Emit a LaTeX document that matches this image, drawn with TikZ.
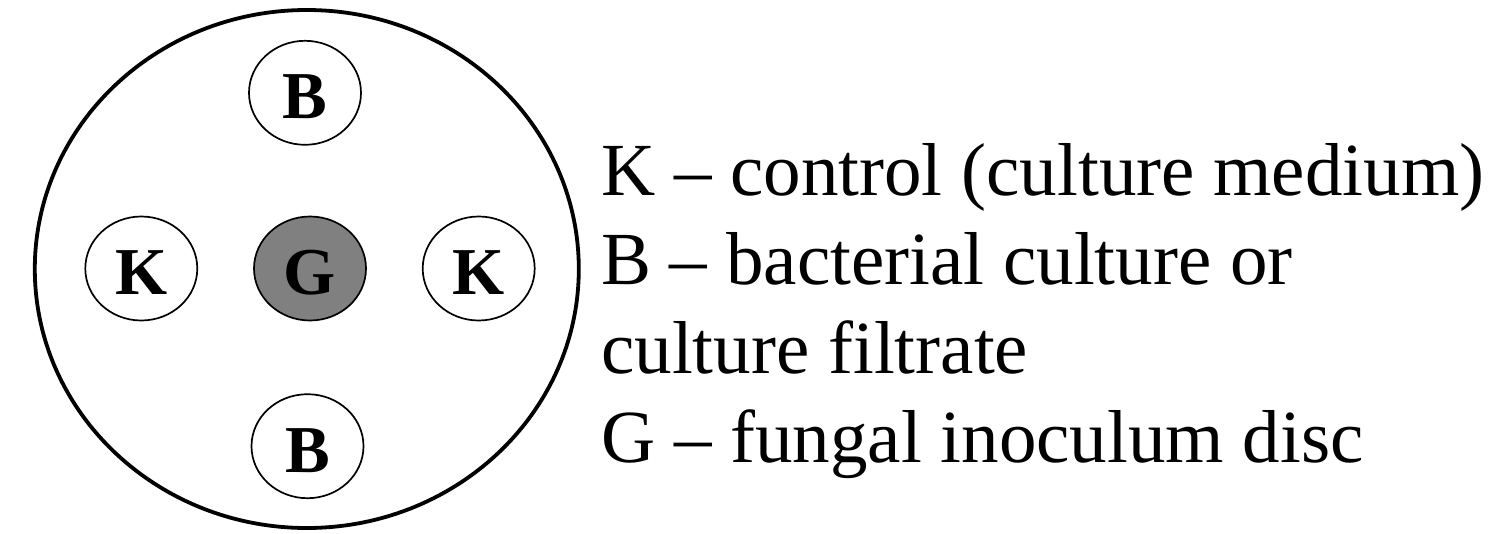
\documentclass[tikz,border=0pt]{standalone}
\usepackage{fontspec}
\setmainfont{Liberation Serif}
\usetikzlibrary{positioning, shapes.geometric}

\begin{document}
\begin{tikzpicture}[
    x=1pt, y=-1pt,
    plate/.style={draw, ellipse, line width=3.8pt, inner sep=0pt,
                  minimum width=544pt, minimum height=518pt},
    well/.style={draw, ellipse, line width=1.7pt, inner sep=0pt,
                 minimum width=112pt, minimum height=104pt,
                 text height=52pt, text depth=0pt,
                 font=\fontsize{67}{67}\selectfont\bfseries},
    disc/.style={well, fill=black!50},
    legend/.style={anchor=base west, inner sep=0pt,
                   font=\fontsize{75}{89}\selectfont}
  ]
  \useasboundingbox (0,0) rectangle (1488,533);

  % petri dish
  \node[plate] (dish) at (306.8,269) {};

  % inoculum in the middle, wells around it
  \node[disc] (fungus) at (310,268.5) {G};
  \node[well, left=55pt of fungus] (ctrlL) {K};
  \node[well, right=55pt of fungus] (ctrlR) {K};
  \node[well, above=70pt of fungus, xshift=-5pt] (bactT) {B};
  \node[well, below=72pt of fungus, xshift=-2.5pt] (bactB) {B};

  % legend
  \node[legend] (legK) at (601,195.5) {K -- control (culture medium)};
  \node[legend] (legB) at (601,284.5) {B -- bacterial culture or};
  \node[legend] (legB2) at (601,373.5) {culture filtrate};
  \node[legend] (legG) at (601,462.5) {G -- fungal inoculum disc};
\end{tikzpicture}
\end{document}
